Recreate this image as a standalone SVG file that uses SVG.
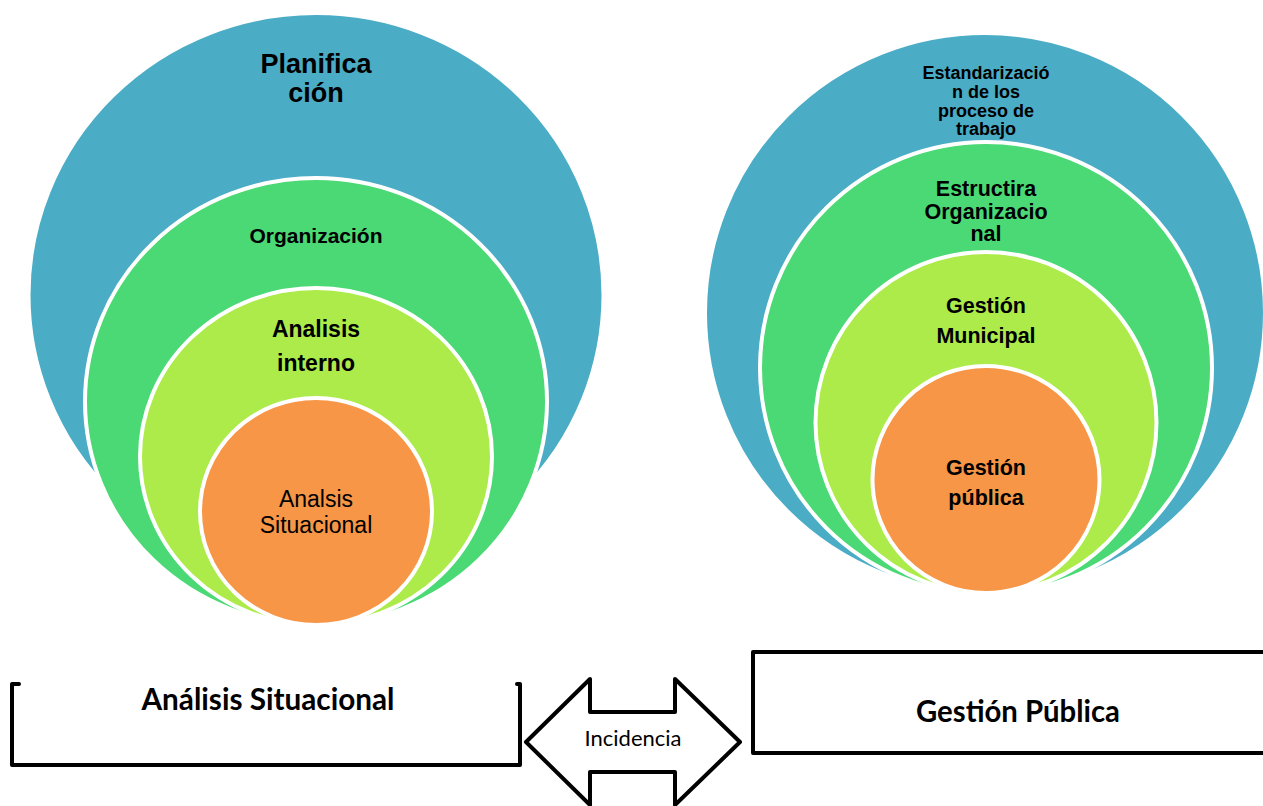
<svg xmlns="http://www.w3.org/2000/svg" width="1263" height="806" viewBox="0 0 1263 806">
<style>
.ring{stroke:#ffffff;stroke-width:4}
.blue{fill:#4bacc6}
.green{fill:#4ad974}
.lime{fill:#aceb49}
.orange{fill:#f79646}
.t{font-family:"Liberation Sans",Arial,sans-serif;fill:#000;text-anchor:middle}
.b{font-weight:bold}
.c{font-family:Lato,"Noto Sans",sans-serif;fill:#000;text-anchor:middle}
.box{fill:none;stroke:#000;stroke-width:4;stroke-linejoin:round;stroke-linecap:round}
</style>
<rect width="1263" height="806" fill="#ffffff"/>
<g id="left-venn">
<g id="planificacion">
<ellipse class="ring blue" cx="316" cy="295" rx="287.5" ry="282"/>
<text class="t b" x="316" y="73" font-size="27">Planifica</text>
<text class="t b" x="316" y="102" font-size="27">ción</text>
</g>
<g id="organizacion">
<ellipse class="ring green" cx="316" cy="401.5" rx="231" ry="223.5"/>
<text class="t b" x="316" y="242.5" font-size="21">Organización</text>
</g>
<g id="analisis-interno">
<ellipse class="ring lime" cx="316" cy="456.5" rx="176" ry="168.5"/>
<text class="t b" x="316" y="337" font-size="23">Analisis</text>
<text class="t b" x="316" y="371" font-size="23">interno</text>
</g>
<g id="analsis-situacional">
<ellipse class="ring orange" cx="316" cy="511.5" rx="116" ry="113.5"/>
<text class="t" x="316" y="507" font-size="23">Analsis</text>
<text class="t" x="316" y="533" font-size="23">Situacional</text>
</g>
</g>
<g id="right-venn">
<g id="estandarizacion">
<circle class="ring blue" cx="985" cy="313" r="280"/>
<text class="t b" x="986" y="79" font-size="18">Estandarizació</text>
<text class="t b" x="986" y="98" font-size="18">n de los</text>
<text class="t b" x="986" y="117" font-size="18">proceso de</text>
<text class="t b" x="986" y="135" font-size="18">trabajo</text>
</g>
<g id="estructura">
<circle class="ring green" cx="986" cy="368" r="226"/>
<text class="t b" x="986" y="196" font-size="21.5">Estructira</text>
<text class="t b" x="986" y="219" font-size="21.5">Organizacio</text>
<text class="t b" x="986" y="241" font-size="21.5">nal</text>
</g>
<g id="gestion-municipal">
<circle class="ring lime" cx="986" cy="422.5" r="170.5"/>
<text class="t b" x="986" y="313" font-size="21.5">Gestión</text>
<text class="t b" x="986" y="343" font-size="21.5">Municipal</text>
</g>
<g id="gestion-publica-circle">
<circle class="ring orange" cx="986" cy="479.5" r="113.5"/>
<text class="t b" x="986" y="475" font-size="21.5">Gestión</text>
<text class="t b" x="986" y="505" font-size="21.5">pública</text>
</g>
</g>
<g id="analisis-box">
<path class="box" d="M19,684 H12 V765 H520 V684 H517"/>
<text class="c b" x="268" y="710" font-size="30" textLength="253" lengthAdjust="spacingAndGlyphs">Análisis Situacional</text>
</g>
<g id="gestion-box">
<path class="box" d="M1270,652 H753 V753 H1270"/>
<text class="c b" x="1018" y="722" font-size="30" textLength="204" lengthAdjust="spacingAndGlyphs">Gestión Pública</text>
</g>
<g id="connectors">
<path class="box" fill="#ffffff" style="fill:#ffffff" d="M526,742 L590,679 V712 H675 V679 L740,742 L675,805 V772 H590 V805 Z"/>
<text class="c" x="633" y="746" font-size="22" textLength="97" lengthAdjust="spacingAndGlyphs">Incidencia</text>
</g>
</svg>
